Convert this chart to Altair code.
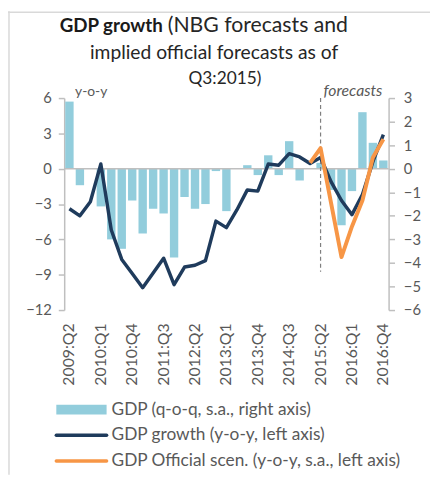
import altair as alt
import pandas as pd

quarters = ["2009:Q2", "2009:Q3", "2009:Q4",
            "2010:Q1", "2010:Q2", "2010:Q3", "2010:Q4",
            "2011:Q1", "2011:Q2", "2011:Q3", "2011:Q4",
            "2012:Q1", "2012:Q2", "2012:Q3", "2012:Q4",
            "2013:Q1", "2013:Q2", "2013:Q3", "2013:Q4",
            "2014:Q1", "2014:Q2", "2014:Q3", "2014:Q4",
            "2015:Q1", "2015:Q2", "2015:Q3", "2015:Q4",
            "2016:Q1", "2016:Q2", "2016:Q3", "2016:Q4"]
x_labels = ["2009:Q2", "2010:Q1", "2010:Q4", "2011:Q3", "2012:Q2", "2013:Q1",
            "2013:Q4", "2014:Q3", "2015:Q2", "2016:Q1", "2016:Q4"]

# GDP q-o-q, s.a. (right axis)
gdp_qoq = [2.85, -0.7, 0.0, -1.6, -3.0, -3.4, -1.35, -2.75, -1.7, -1.9, -3.77,
           -1.2, -1.7, -1.5, -0.1, -1.8, 0.0, 0.15, -0.27, 0.57, -0.27, 1.17,
           -0.5, 0.0, 0.25, -0.9, -2.4, -0.95, 2.4, 1.1, 0.35]
# GDP growth y-o-y (left axis)
gdp_yoy = [-3.4, -4.0, -2.8, 0.4, -5.2, -7.7, -8.9, -10.1, -8.85, -7.6, -9.85,
           -8.35, -8.2, -7.8, -4.45, -5.0, -3.5, -1.8, -1.9, 0.4, 0.3, 1.28,
           1.0, 0.45, 0.95, -1.1, -2.7, -3.9, -2.2, 0.6, 2.9]
# Official scenario y-o-y (left axis)
official_quarters = ["2015:Q1", "2015:Q2", "2015:Q3", "2015:Q4",
                     "2016:Q1", "2016:Q2", "2016:Q3", "2016:Q4"]
official_yoy = [0.5, 1.75, -2.9, -7.5, -4.9, -2.7, 0.95, 2.5]

forecast_start = "2015:Q2"
forecast_span = [6, -8.75]
left_ticks = [-12, -9, -6, -3, 0, 3, 6]
right_ticks = [-6, -5, -4, -3, -2, -1, 0, 1, 2, 3]

title_bold = "GDP growth"
title_lines = ["(NBG forecasts and", "implied official forecasts as of", "Q3:2015)"]
legend_labels = ["GDP (q-o-q, s.a., right axis)",
                 "GDP growth (y-o-y, left axis)",
                 "GDP Official scen. (y-o-y, s.a., left axis)"]

FONT = "Lato"
GRAY = "#595959"
AX = "#BFBFBF"
BAR = "#92CDDC"
NAVY = "#1F3B5C"
ORANGE = "#F79646"
W, H = 329, 215

bars_df = pd.DataFrame({"q": quarters, "v": gdp_qoq})
yoy_df = pd.DataFrame({"q": quarters, "v": gdp_yoy})
off_df = pd.DataFrame({"q": official_quarters, "v": official_yoy})
fc_df = pd.DataFrame({"q": [forecast_start], "top": [forecast_span[0]], "bottom": [forecast_span[1]]})
one = pd.DataFrame({"a": [0]})

x_enc = alt.X("q:N", sort=quarters, title=None,
              scale=alt.Scale(domain=quarters, paddingInner=0.2, paddingOuter=0.1),
              axis=alt.Axis(values=x_labels, labelAngle=-90, domain=False, ticks=False,
                            labelPadding=13, labelFont=FONT, labelFontSize=16,
                            labelColor=GRAY))

left_scale = alt.Scale(domain=[-12, 6], nice=False, zero=False)
left_axis = alt.Axis(orient="left", values=left_ticks, grid=False, title=None,
                     domainColor=AX, tickColor=AX, tickSize=6, labelPadding=7,
                     domainWidth=1.5, tickWidth=1.5, labelFontSize=15)
right_scale = alt.Scale(domain=[-6, 3], nice=False, zero=False)
right_axis = alt.Axis(orient="right", values=right_ticks, grid=False, title=None,
                      domainColor=AX, tickColor=AX, tickSize=6, labelPadding=9,
                      domainWidth=1.5, tickWidth=1.5, labelFontSize=15)

bars = alt.Chart(bars_df).mark_bar(color=BAR).encode(
    x=x_enc,
    y=alt.Y("v:Q", scale=right_scale, axis=right_axis),
    y2=alt.datum(0),
)

zero = alt.Chart(one).mark_rule(color=AX, strokeWidth=1.5).encode(
    y=alt.Y(datum=0, scale=left_scale, axis=left_axis))

dashed = alt.Chart(fc_df).mark_rule(color="#7F7F7F", strokeDash=[4, 3], strokeWidth=1.2).encode(
    x=x_enc,
    y=alt.Y("top:Q", scale=left_scale, axis=left_axis),
    y2="bottom:Q",
)

dark = alt.Chart(yoy_df).mark_line(color=NAVY, strokeWidth=3.5, strokeJoin="round").encode(
    x=x_enc, y=alt.Y("v:Q", scale=left_scale, axis=left_axis))

orange = alt.Chart(off_df).mark_line(color=ORANGE, strokeWidth=4, strokeJoin="round").encode(
    x=x_enc, y=alt.Y("v:Q", scale=left_scale, axis=left_axis))


def txt(s, x, y, size=14, color=GRAY, align="left", weight="normal", style="normal"):
    return alt.Chart(one).mark_text(
        text=s, align=align, baseline="middle", font=FONT, fontSize=size,
        color=color, fontWeight=weight, fontStyle=style
    ).encode(x=alt.value(x), y=alt.value(y))


texts = [
    txt(title_bold, 100, -73, size=19, color="#1a1a1a", align="right", weight="bold"),
    txt(title_lines[0], 105, -73, size=21.5, color="#262626"),
    txt(title_lines[1], 152, -46, size=19.5, color="#262626", align="center"),
    txt(title_lines[2], 163, -19, size=17.5, color="#262626", align="center"),
    txt("y-o-y", 11, -6, size=14),
    txt("forecasts", 263, -7, size=16, style="italic"),
    txt(legend_labels[0], 48, 316, size=17.5),
    txt(legend_labels[1], 48, 342, size=17.5),
    txt(legend_labels[2], 48, 368, size=17.5),
]

legend_marks = [
    alt.Chart(one).mark_rect(color=BAR).encode(
        x=alt.value(-8), x2=alt.value(43), y=alt.value(311), y2=alt.value(321)),
    alt.Chart(one).mark_rule(color=NAVY, strokeWidth=3.5, strokeCap="round").encode(
        x=alt.value(-8), x2=alt.value(43), y=alt.value(342)),
    alt.Chart(one).mark_rule(color=ORANGE, strokeWidth=3.5, strokeCap="round").encode(
        x=alt.value(-8), x2=alt.value(43), y=alt.value(368)),
]

border = [
    alt.Chart(one).mark_rule(color="#D9D9D9", strokeWidth=1.5).encode(
        x=alt.value(-57), x2=alt.value(371), y=alt.value(-87)),
    alt.Chart(one).mark_rule(color="#D9D9D9", strokeWidth=1.5).encode(
        x=alt.value(-56), y=alt.value(-88), y2=alt.value(382)),
]

right_group = alt.layer(bars)
left_group = alt.layer(zero, dashed, dark, orange, *texts, *legend_marks, *border)

chart = alt.layer(right_group, left_group).resolve_scale(y="independent").properties(
    width=W, height=H,
    padding={"left": 57, "top": 88, "right": 42, "bottom": 167},
    autosize=alt.AutoSizeParams(type="none"),
).configure_view(stroke=None).configure_axis(
    labelFont=FONT, labelColor=GRAY
)

chart.save("out.html", embed_options={"renderer": "svg", "actions": False})
